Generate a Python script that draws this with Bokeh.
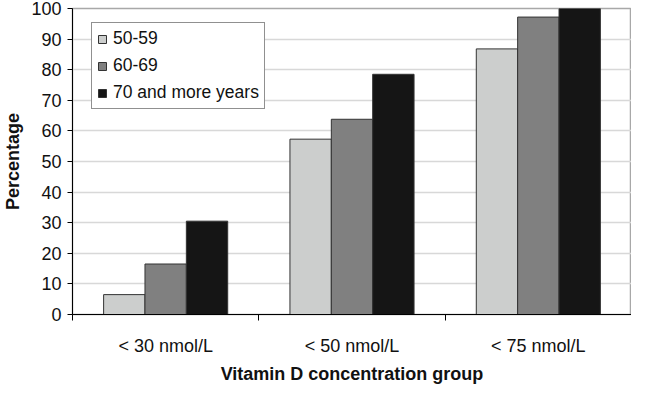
from bokeh.plotting import figure
from bokeh.models import ColumnDataSource, FixedTicker, Range1d, Legend, LegendItem
from bokeh.embed import file_html
from bokeh.resources import INLINE

categories = ["< 30 nmol/L", "< 50 nmol/L", "< 75 nmol/L"]
series_names = ["50-59", "60-69", "70 and more years"]
values_50_59 = [6.5, 57.3, 86.8]
values_60_69 = [16.5, 63.8, 97.2]
values_70plus = [30.5, 78.5, 100.0]
series_values = [values_50_59, values_60_69, values_70plus]
colors = ["#cccecd", "#808080", "#151515"]
y_ticks = list(range(0, 101, 10))

p = figure(width=631, height=386, output_backend="svg", toolbar_location=None,
           x_range=Range1d(0, len(categories)), y_range=Range1d(0, 100),
           min_border_left=68, min_border_right=0, min_border_top=8, min_border_bottom=58)
p.background_fill_color = "white"
p.border_fill_color = "white"
p.outline_line_color = "#a8a8a8"
p.outline_line_width = 1.5

bar_w = 0.222
offsets = [-bar_w, 0.0, bar_w]
items = []
for name, vals, col, off in zip(series_names, series_values, colors, offsets):
    xs = [i + 0.5 + off for i in range(len(categories))]
    src = ColumnDataSource(dict(x=xs, top=vals))
    r = p.vbar(x="x", top="top", width=bar_w, bottom=0, source=src,
               fill_color=col, line_color="#333333", line_width=1)
    items.append(LegendItem(label=name, renderers=[r]))

legend = Legend(items=items, location=(19, 205))
legend.label_text_font = "Liberation Sans"
legend.label_text_font_size = "17.5px"
legend.label_text_color = "#111111"
legend.glyph_width = 10
legend.glyph_height = 10
legend.label_height = 20
legend.spacing = 6
legend.padding = 5
legend.margin = 0
legend.label_standoff = 6
legend.border_line_color = "#222222"
legend.border_line_width = 1
legend.background_fill_alpha = 1
p.add_layout(legend, "center")

# axes
p.xaxis.ticker = FixedTicker(ticks=[i + 0.5 for i in range(len(categories))],
                             minor_ticks=list(range(len(categories) + 1)))
p.xaxis.major_label_overrides = {i + 0.5: c for i, c in enumerate(categories)}
p.xaxis.major_tick_out = 0
p.xaxis.major_tick_in = 0
p.xaxis.minor_tick_out = 6
p.xaxis.minor_tick_in = 0
p.xaxis.minor_tick_line_color = "black"
p.xaxis.axis_line_color = "black"
p.xaxis.major_label_text_font = "Liberation Sans"
p.xaxis.major_label_text_font_size = "18px"
p.xaxis.major_label_text_color = "#111111"
p.xaxis.major_label_standoff = 15
p.xaxis.axis_label = "Vitamin D concentration group"
p.xaxis.axis_label_text_font = "Liberation Sans"
p.xaxis.axis_label_text_font_style = "bold"
p.xaxis.axis_label_text_font_size = "18px"
p.xaxis.axis_label_text_color = "#111111"
p.xaxis.axis_label_standoff = 5

p.yaxis.ticker = FixedTicker(ticks=y_ticks)
p.yaxis.minor_tick_line_color = None
p.yaxis.major_tick_out = 5
p.yaxis.major_tick_in = 0
p.yaxis.axis_line_color = "black"
p.yaxis.major_tick_line_color = "black"
p.yaxis.major_label_text_font = "Liberation Sans"
p.yaxis.major_label_text_font_size = "18px"
p.yaxis.major_label_text_color = "#111111"
p.yaxis.major_label_standoff = 6
p.yaxis.axis_label = "Percentage"
p.yaxis.axis_label_text_font = "Liberation Sans"
p.yaxis.axis_label_text_font_style = "bold"
p.yaxis.axis_label_text_font_size = "18px"
p.yaxis.axis_label_text_color = "#111111"
p.yaxis.axis_label_standoff = 5

p.xgrid.grid_line_color = None
p.ygrid.grid_line_color = "#d8d8d8"
p.ygrid.grid_line_width = 1.5

open("out.html", "w").write(file_html(p, INLINE))
